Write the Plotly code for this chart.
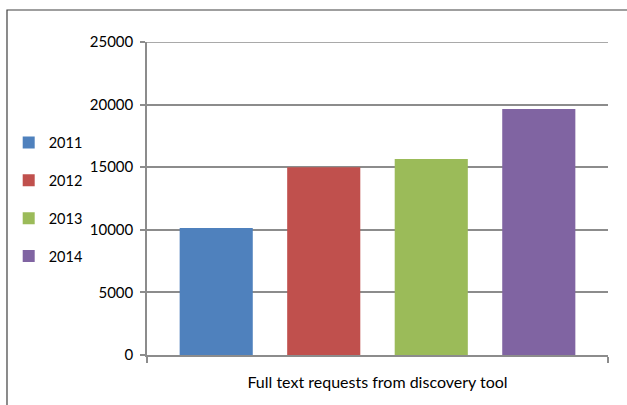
import plotly.graph_objects as go

category = ["Full text requests from discovery tool"]
years = ["2011", "2012", "2013", "2014"]
requests = [10150, 15000, 15650, 19650]
colors = ["#4F81BD", "#C0504D", "#9BBB59", "#8064A2"]
y_ticks = [0, 5000, 10000, 15000, 20000, 25000]
y_tick_text = ["0", "5000", "10000", "15000", "20000", "25000"]

family = "Lato, Noto Sans, sans-serif"
grid_color = "#8C8C8C"

fig = go.Figure()
for yr, val, col in zip(years, requests, colors):
    fig.add_trace(go.Bar(
        x=category, y=[val], name=yr,
        marker=dict(color=col, line=dict(width=0)),
        legendgroup=yr,
    ))

fig.update_layout(
    width=627, height=405,
    margin=dict(l=147, r=19, t=42, b=50, autoexpand=False),
    paper_bgcolor="white", plot_bgcolor="white",
    font=dict(family=family, size=15, color="#000000"),
    barmode="group",
    bargap=0.067,
    bargroupgap=0.32,
    showlegend=True,
    legend=dict(
        x=-0.3, y=0.73, xanchor="left", yanchor="top",
        traceorder="grouped", tracegroupgap=16,
        font=dict(family=family, size=14.5, color="#000000"),
        bgcolor="rgba(0,0,0,0)",
        itemwidth=30,
    ),
    xaxis=dict(
        showline=True, linecolor=grid_color, linewidth=1.5,
        ticks="outside", tickson="boundaries", ticklen=6,
        tickcolor=grid_color, tickwidth=1.5,
        showgrid=False, ticklabelstandoff=12, automargin=False,
        tickfont=dict(family=family, size=16, color="#000000"),
    ),
    yaxis=dict(
        range=[0, 25000], tickvals=y_ticks, ticktext=y_tick_text,
        showline=True, linecolor=grid_color, linewidth=1.5,
        ticks="outside", ticklen=5, tickcolor=grid_color, tickwidth=1.5,
        showgrid=True, gridcolor=grid_color, gridwidth=1.5,
        zeroline=False, ticklabelstandoff=4, automargin=False,
        tickfont=dict(family=family, size=15, color="#000000"),
    ),
    shapes=[
        # chart frame
        dict(type="rect", xref="paper", yref="paper",
             x0=-0.3037, x1=1.2, y0=-0.3, y1=1.1022,
             line=dict(color="#404040", width=1.2), layer="below"),
        # top gridline at the range maximum
        dict(type="line", xref="paper", yref="y",
             x0=0, x1=1, y0=y_ticks[-1], y1=y_ticks[-1],
             line=dict(color=grid_color, width=1.5), layer="below"),
    ],
)

fig.write_html("out.html")
